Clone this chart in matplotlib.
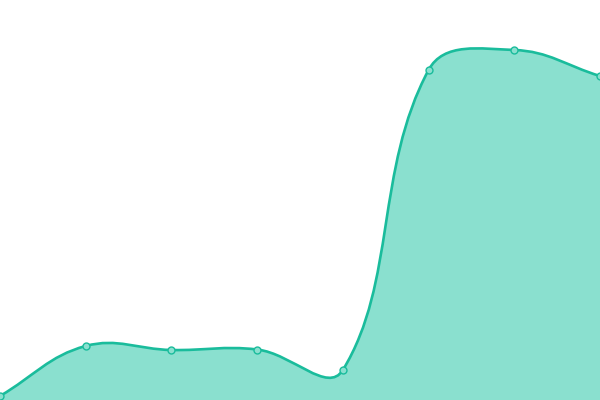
import numpy as np
import matplotlib
matplotlib.use("Agg")
import matplotlib.pyplot as plt
from matplotlib.path import Path
from matplotlib.patches import PathPatch

# values (axis runs 0..400)
labels = ["1", "2", "3", "4", "5", "6", "7", "8"]
values = [4, 54, 50, 50.5, 30, 330, 350, 324]

line_color = "#1abc9c"
fill_color = "#8ae0cf"

W, H = 600, 400
TENSION = 0.4


def spline_controls(px, py, t=TENSION):
    # chart.js style cardinal spline, computed in pixel space
    n = len(px)
    c_prev = []
    c_next = []
    for i in range(n):
        p0 = (px[max(i - 1, 0)], py[max(i - 1, 0)])
        p1 = (px[i], py[i])
        p2 = (px[min(i + 1, n - 1)], py[min(i + 1, n - 1)])
        d01 = np.hypot(p1[0] - p0[0], p1[1] - p0[1])
        d12 = np.hypot(p2[0] - p1[0], p2[1] - p1[1])
        tot = d01 + d12
        s01 = d01 / tot if tot else 0
        s12 = d12 / tot if tot else 0
        fa = t * s01
        fb = t * s12
        c_prev.append((p1[0] - fa * (p2[0] - p0[0]), p1[1] - fa * (p2[1] - p0[1])))
        c_next.append((p1[0] + fb * (p2[0] - p0[0]), p1[1] + fb * (p2[1] - p0[1])))
    return c_prev, c_next


fig = plt.figure(figsize=(6, 4), dpi=100)
ax = fig.add_axes([0, 0, 1, 1])
ax.set_xlim(0, W)
ax.set_ylim(0, H)
ax.axis("off")

n = len(values)
px = [i * W / (n - 1) for i in range(n)]
py = [v * H / 400.0 for v in values]
cp, cn = spline_controls(px, py)

verts = [(px[0], py[0])]
codes = [Path.MOVETO]
for i in range(n - 1):
    verts += [cn[i], cp[i + 1], (px[i + 1], py[i + 1])]
    codes += [Path.CURVE4] * 3

line_path = Path(verts, codes)
fill_verts = verts + [(px[-1], 0), (px[0], 0), (px[0], py[0])]
fill_codes = codes + [Path.LINETO, Path.LINETO, Path.CLOSEPOLY]
fill_path = Path(fill_verts, fill_codes)

ax.add_patch(PathPatch(fill_path, facecolor=fill_color, edgecolor="none"))
ax.add_patch(PathPatch(line_path, facecolor="none", edgecolor=line_color, lw=1.9))
ax.plot(px, py, "o", ms=5, mfc=fill_color, mec=line_color, mew=1, clip_on=False)

fig.savefig("out.png", dpi=100)
